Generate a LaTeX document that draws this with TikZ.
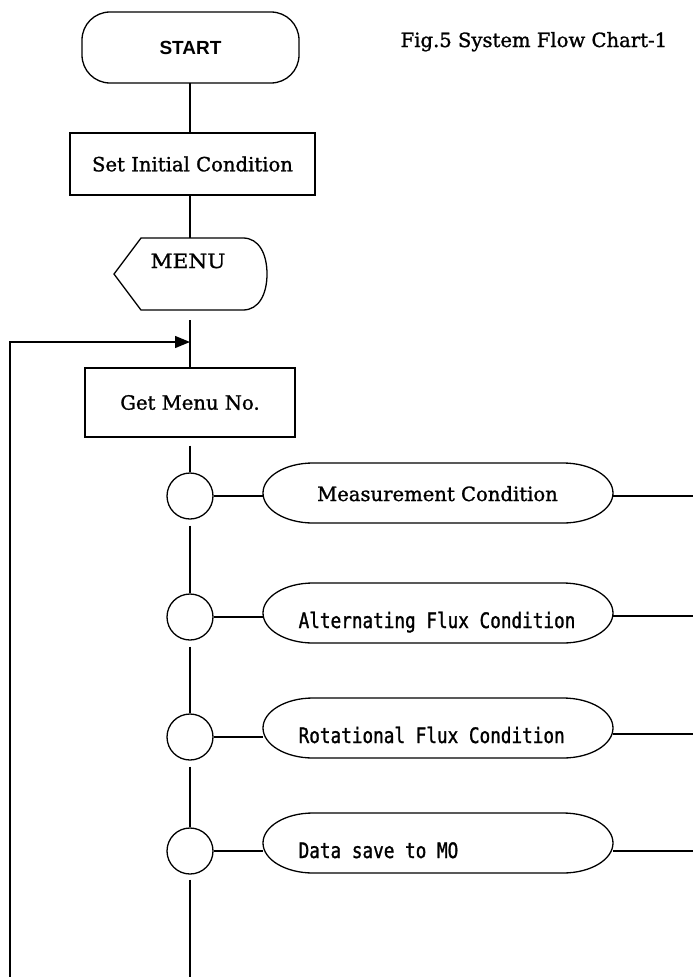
\documentclass[tikz,border=0pt]{standalone}
\usepackage{fontspec}
\usetikzlibrary{arrows.meta,calc}
\newfontfamily\century[FakeBold=1.2]{DejaVu Serif}
\newfontfamily\gothic[FakeStretch=0.83,FakeBold=1.2]{DejaVu Sans Mono}
\newfontfamily\arial{Liberation Sans}
\begin{document}
\begin{tikzpicture}[x=1pt,y=-1pt,line width=1.3pt,
  box/.style={draw,line width=1.3pt,inner sep=0pt},
  hidden/.style={inner sep=0pt,outer sep=0pt},
  ctext/.style={font=\century\fontsize{19.6}{24}\selectfont,inner sep=0pt},
  gtext/.style={font=\gothic\fontsize{21.3}{24}\selectfont,inner sep=0pt},
  conn/.style={draw,line width=1.3pt},
  bubble/.style={draw,circle,line width=1.3pt,minimum size=46pt,inner sep=0pt}]
\useasboundingbox (0,0) rectangle (693,977);
\fill[white] (0,0) rectangle (693,977);

% title
\node[ctext,anchor=base west] (title) at (400,47) {Fig.5 System Flow Chart-1};

% START
\node[box,rounded corners=28pt,minimum width=217pt,minimum height=71pt,
      font=\arial\bfseries\fontsize{19}{21}\selectfont] (start) at (190.5,47.5) {START};

% Set Initial Condition
\node[box,ctext,minimum width=245pt,minimum height=62pt] (setc) at (192.5,164) {Set Initial Condition};

% MENU (display shape)
\node[hidden,minimum width=153pt,minimum height=72pt] (menu) at (190.5,274) {};
\draw ($(menu.north west)+(27,0)$) -- ($(menu.north east)+(-24,0)$)
  .. controls ($(menu.north east)+(-8,0)$) and ($(menu.east)+(0,-20)$) .. (menu.east)
  .. controls ($(menu.east)+(0,20)$) and ($(menu.south east)+(-8,0)$) .. ($(menu.south east)+(-24,0)$)
  -- ($(menu.south west)+(27,0)$) -- (menu.west) -- cycle;
\node[ctext,xscale=1.1] (menutxt) at (188,261) {MENU};

% Get Menu No.
\node[box,ctext,minimum width=210pt,minimum height=69pt] (getm) at (190,402.5) {Get Menu No.};

% junction circles
\node[bubble] (c1) at (190,496) {};
\node[bubble] (c2) at (190,617) {};
\node[bubble] (c3) at (190,737) {};
\node[bubble] (c4) at (190,851) {};

% stadium boxes
\node[hidden,minimum width=350pt,minimum height=60pt] (m1) at (438,493) {};
\node[hidden,minimum width=350pt,minimum height=60pt] (m2) at (438,613) {};
\node[hidden,minimum width=350pt,minimum height=60pt] (m3) at (438,728) {};
\node[hidden,minimum width=350pt,minimum height=60pt] (m4) at (438,843) {};
\foreach \m in {m1,m2,m3,m4}{
  \draw ($(\m.north west)+(50,0)$) -- ($(\m.north east)+(-50,0)$)
    arc[start angle=90,end angle=-90,x radius=50pt,y radius=30pt]
    -- ($(\m.south west)+(50,0)$)
    arc[start angle=270,end angle=90,x radius=50pt,y radius=30pt] -- cycle;
}
\node[ctext,anchor=base] (t1) at (437.5,501) {Measurement Condition};
\node[gtext,anchor=base west] (t2) at (298,628) {Alternating Flux Condition};
\node[gtext,anchor=base west] (t3) at (298,743) {Rotational Flux Condition};
\node[gtext,anchor=base west] (t4) at (298,858) {Data save to MO};

% free ends
\coordinate (join) at (190,342);
\coordinate (loopb) at (10,977);
\coordinate (endb) at (190,977);
\coordinate (r1) at (693,496);
\coordinate (r2) at (693,616);
\coordinate (r3) at (693,734);
\coordinate (r4) at (693,851);

% connectors
\draw[conn] (190,83) -- (190,133);
\draw[conn] (190,195) -- (190,238);
\draw[conn] ($(menu.south)+(-0.5,10)$) -- (getm.north);
\draw[conn] ($(getm.south)+(0,8)$) -- (c1.north);
\draw[conn] ($(c1.south)+(0,6)$) -- (c2.north);
\draw[conn] ($(c2.south)+(0,6)$) -- (c3.north);
\draw[conn] ($(c3.south)+(0,6)$) -- (c4.north);
\draw[conn] ($(c4.south)+(0,5)$) -- (endb);
\draw[conn,-{Triangle[length=15pt,width=12pt]}] (loopb) |- (join);
\foreach \i in {1,2,3,4}{
  \draw[conn] (c\i.east) -- (c\i.east -| m\i.west);
  \draw[conn] (m\i.east |- r\i) -- (r\i);
}
\end{tikzpicture}
\end{document}
